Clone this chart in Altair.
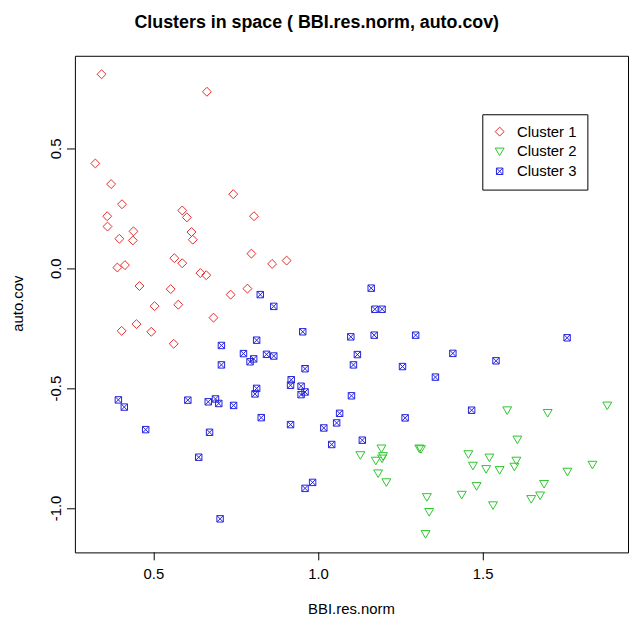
import altair as alt
import pandas as pd

# ---- data ----
c1_x = [0.341, 0.661, 0.322, 0.370, 0.741, 0.403, 0.358, 0.586, 0.600, 0.804,
        0.359, 0.438, 0.614, 0.395, 0.436, 0.618, 0.796, 0.859, 0.903, 0.389,
        0.412, 0.562, 0.586, 0.641, 0.659, 0.456, 0.551, 0.733, 0.784, 0.502,
        0.574, 0.681, 0.402, 0.447, 0.492, 0.560]
c1_y = [0.811, 0.738, 0.439, 0.353, 0.311, 0.269, 0.219, 0.243, 0.214, 0.219,
        0.176, 0.156, 0.153, 0.125, 0.118, 0.121, 0.063, 0.020, 0.034, 0.005,
        0.015, 0.044, 0.023, -0.018, -0.027, -0.072, -0.085, -0.108, -0.083, -0.156,
        -0.150, -0.204, -0.259, -0.231, -0.263, -0.313]

c2_x = [1.127, 1.191, 1.174, 1.193, 1.196, 1.181, 1.206, 1.306, 1.311, 1.329,
        1.336, 1.325, 1.573, 1.696, 1.877, 1.604, 1.455, 1.519, 1.469, 1.509,
        1.550, 1.601, 1.595, 1.832, 1.756, 1.480, 1.435, 1.685, 1.673, 1.646,
        1.530]
c2_y = [-0.777, -0.749, -0.800, -0.791, -0.781, -0.853, -0.890, -0.749, -0.752, -0.952,
        -1.014, -1.106, -0.590, -0.601, -0.570, -0.712, -0.773, -0.787, -0.821, -0.835,
        -0.839, -0.800, -0.825, -0.817, -0.846, -0.906, -0.942, -0.897, -0.945, -0.960,
        -0.986]

c3_x = [0.823, 0.864, 0.812, 0.705, 0.772, 0.803, 0.792, 0.842, 0.864, 0.705,
        0.812, 0.807, 0.392, 0.410, 0.603, 0.665, 0.687, 0.697, 0.742, 0.826,
        0.475, 0.669, 0.636, 0.701, 1.160, 1.171, 1.193, 0.952, 1.098, 1.169,
        1.295, 1.408, 1.118, 1.106, 0.959, 1.255, 1.355, 0.917, 0.915, 0.947,
        0.959, 0.947, 1.100, 1.064, 1.055, 0.915, 1.016, 1.263, 1.133, 1.040,
        0.982, 0.959, 1.755, 1.539, 1.465]
c3_y = [-0.108, -0.157, -0.298, -0.320, -0.354, -0.376, -0.388, -0.357, -0.364, -0.401,
        -0.499, -0.522, -0.547, -0.577, -0.548, -0.555, -0.543, -0.562, -0.570, -0.621,
        -0.671, -0.682, -0.786, -1.043, -0.081, -0.169, -0.169, -0.263, -0.284, -0.277,
        -0.277, -0.353, -0.358, -0.401, -0.417, -0.408, -0.452, -0.463, -0.486, -0.490,
        -0.514, -0.525, -0.530, -0.603, -0.643, -0.650, -0.664, -0.622, -0.715, -0.733,
        -0.891, -0.916, -0.288, -0.384, -0.590]

clusters = ["Cluster 1", "Cluster 2", "Cluster 3"]
colors = ["#E52B2B", "#2DC42D", "#2222DD"]
shapes = [
    "M0,-1L1,0L0,1L-1,0Z",
    "M-1,-0.75L1,-0.75L0,0.95Z",
    "M-0.72,-0.72L0.72,-0.72L0.72,0.72L-0.72,0.72Z M-0.72,-0.72L0.72,0.72 M-0.72,0.72L0.72,-0.72",
]
x_ticks = [0.5, 1.0, 1.5]
y_ticks = [-1.0, -0.5, 0.0, 0.5]

rows = []
for name, xs, ys in zip(clusters, [c1_x, c2_x, c3_x], [c1_y, c2_y, c3_y]):
    for xv, yv in zip(xs, ys):
        rows.append({"x": xv, "y": yv, "cluster": name})
df = pd.DataFrame(rows)

FONT = "Liberation Sans"

chart = alt.Chart(df).mark_point(filled=False, strokeWidth=1, opacity=1, size=81).encode(
    x=alt.X("x:Q", title="BBI.res.norm",
            scale=alt.Scale(domain=[0.26, 1.94], nice=False, zero=False),
            axis=alt.Axis(values=x_ticks, format=".1f", grid=False, domain=False,
                          translate=0,
                          tickSize=8, tickColor="black", labelPadding=7,
                          labelFontSize=15, labelColor="black", labelFont=FONT,
                          titleFontSize=15, titleFont=FONT, titleColor="black",
                          titleFontWeight="normal", titleX=279, titleY=57,
                          titleBaseline="middle", titleAlign="center")),
    y=alt.Y("y:Q", title="auto.cov",
            scale=alt.Scale(domain=[-1.183, 0.888], nice=False, zero=False),
            axis=alt.Axis(values=y_ticks, grid=False, domain=False,
                          translate=0,
                          labelExpr="datum.value < 0 ? '-' + format(-datum.value, '.1f') : format(datum.value, '.1f')",
                          tickSize=8, tickColor="black", labelPadding=3,
                          labelAngle=270, labelAlign="center", labelBaseline="bottom",
                          labelFontSize=15, labelColor="black", labelFont=FONT,
                          titleFontSize=15, titleFont=FONT, titleColor="black",
                          titleFontWeight="normal", titleX=-57, titleY=250,
                          titleAngle=270, titleBaseline="middle", titleAlign="center")),
    color=alt.Color("cluster:N", scale=alt.Scale(domain=clusters, range=colors),
                    legend=alt.Legend(title=None, orient="none", legendX=411, legendY=59,
                                      strokeColor="black", fillColor="white", padding=10,
                                      cornerRadius=0, labelFontSize=15, labelFont=FONT,
                                      labelColor="black", symbolSize=81, symbolStrokeWidth=1,
                                      rowPadding=4, labelOffset=10)),
    shape=alt.Shape("cluster:N", scale=alt.Scale(domain=clusters, range=shapes)),
).properties(
    width=558,
    height=501,
    padding={"left": 67.5, "top": 45.5, "right": 2, "bottom": 68},
    autosize=alt.AutoSizeParams(type="none"),
    background="white",
    title=alt.TitleParams(text="Clusters in space ( BBI.res.norm, auto.cov)",
                          fontSize=18, fontWeight="bold", font=FONT, color="black",
                          anchor="middle", frame="group", offset=24, dx=-35),
).configure_view(stroke="black", strokeWidth=1)

chart.save("out.html", embed_options={"renderer": "svg", "actions": False})
